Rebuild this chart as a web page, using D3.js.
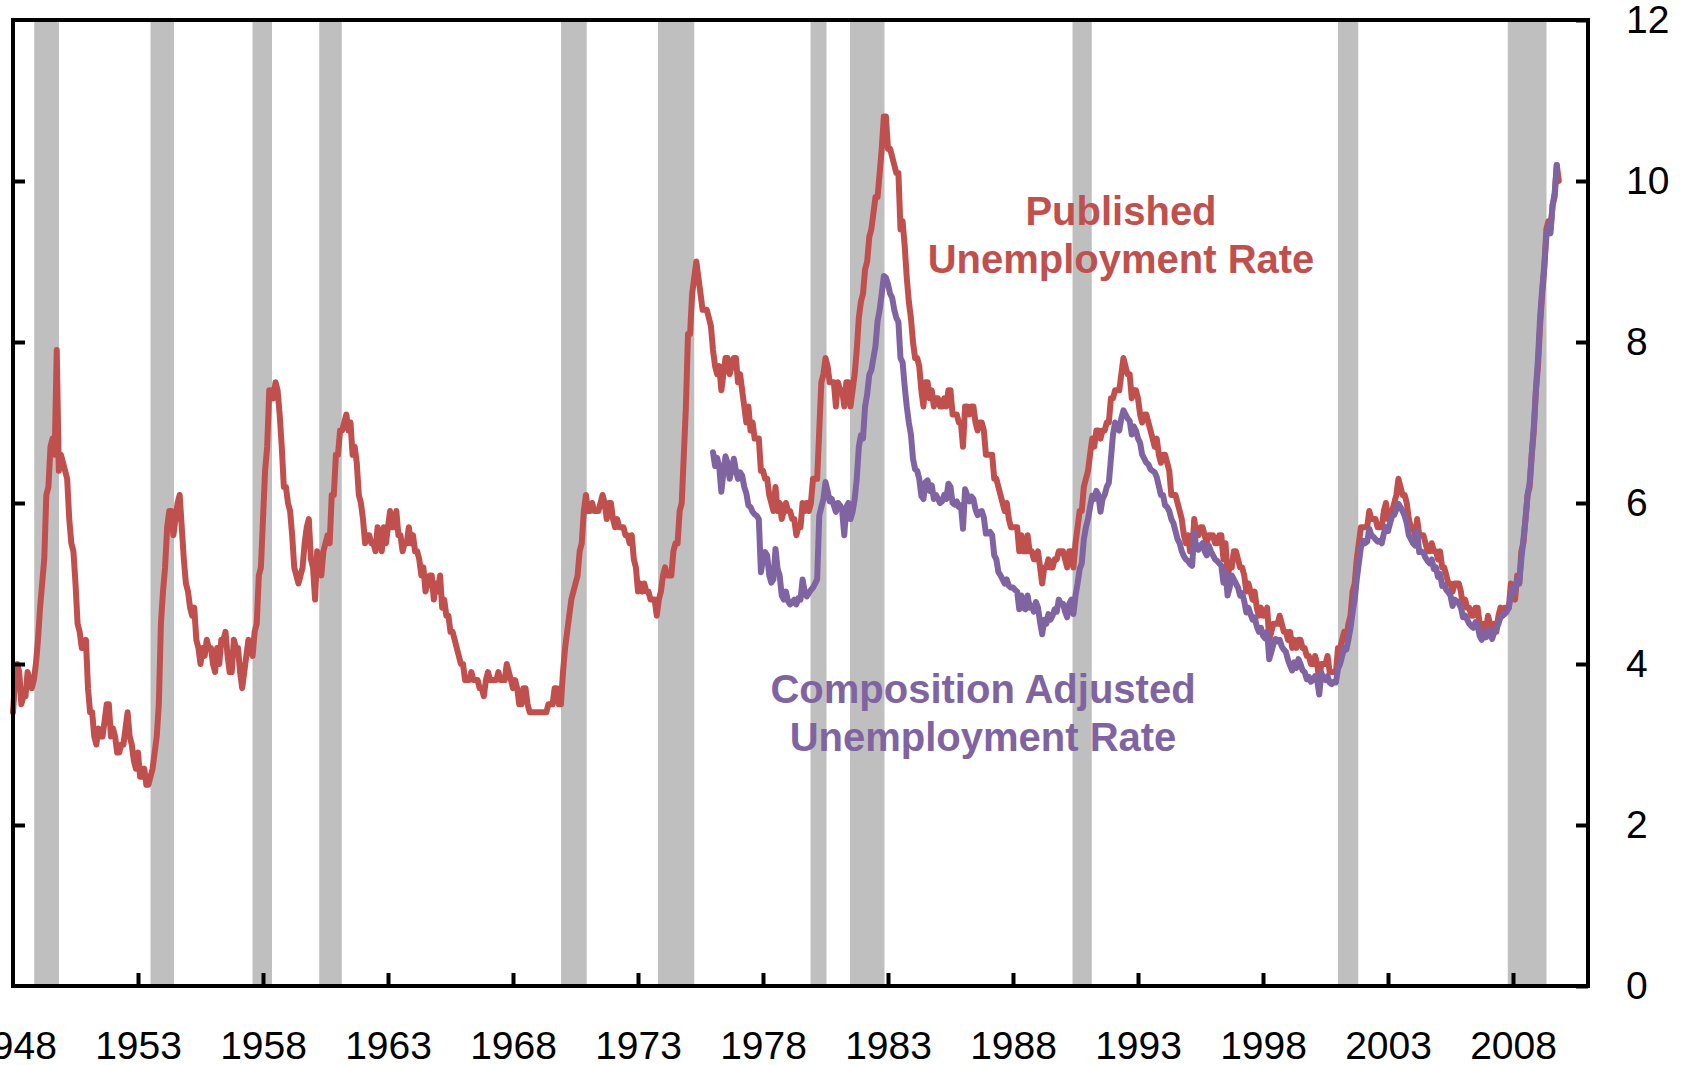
<!DOCTYPE html>
<html>
<head>
<meta charset="utf-8">
<script src="https://cdn.jsdelivr.net/npm/d3@7"></script>
<style>
  body { margin: 0; background: #fff; }
  svg { display: block; }
</style>
</head>
<body>
<div id="chart"></div>
<script>
// monthly published unemployment rate, Jan 1948 - Nov 2009
var publishedStart = 1948;
var published = [
  3.4,3.8,4.0,3.9,3.5,3.6,3.6,3.9,3.8,3.7,3.8,4.0, // 1948
  4.3,4.7,5.0,5.3,6.1,6.2,6.7,6.8,6.6,7.9,6.4,6.6, // 1949
  6.5,6.4,6.3,5.8,5.5,5.4,5.0,4.5,4.4,4.2,4.2,4.3,
  3.7,3.4,3.4,3.1,3.0,3.2,3.1,3.1,3.3,3.5,3.5,3.1,
  3.2,3.1,2.9,2.9,3.0,3.0,3.2,3.4,3.1,3.0,2.8,2.7,
  2.9,2.6,2.6,2.7,2.5,2.5,2.6,2.7,2.9,3.1,3.5,4.5, // 1953
  4.9,5.2,5.7,5.9,5.9,5.6,5.8,6.0,6.1,5.7,5.3,5.0,
  4.9,4.7,4.6,4.7,4.3,4.2,4.0,4.2,4.1,4.3,4.2,4.2,
  4.0,3.9,4.2,4.0,4.3,4.3,4.4,4.1,3.9,3.9,4.3,4.2,
  4.2,3.9,3.7,3.9,4.1,4.3,4.2,4.1,4.4,4.5,5.1,5.2,
  5.8,6.4,6.7,7.4,7.4,7.3,7.5,7.4,7.1,6.7,6.2,6.2, // 1958
  6.0,5.9,5.6,5.2,5.1,5.0,5.1,5.2,5.5,5.7,5.8,5.3,
  5.2,4.8,5.4,5.2,5.1,5.4,5.5,5.6,5.5,6.1,6.1,6.6,
  6.6,6.9,6.9,7.0,7.1,6.9,7.0,6.6,6.7,6.5,6.1,6.0,
  5.8,5.5,5.6,5.6,5.5,5.5,5.4,5.7,5.6,5.4,5.7,5.5,
  5.7,5.9,5.7,5.7,5.9,5.6,5.6,5.4,5.5,5.5,5.7,5.5, // 1963
  5.6,5.4,5.4,5.3,5.1,5.2,4.9,5.0,5.1,5.1,4.8,5.0,
  4.9,5.1,4.7,4.8,4.6,4.6,4.4,4.4,4.3,4.2,4.1,4.0,
  4.0,3.8,3.8,3.8,3.9,3.8,3.8,3.8,3.7,3.7,3.6,3.8,
  3.9,3.8,3.8,3.8,3.8,3.9,3.8,3.8,3.8,4.0,3.9,3.8,
  3.7,3.8,3.7,3.5,3.5,3.7,3.7,3.5,3.4,3.4,3.4,3.4, // 1968
  3.4,3.4,3.4,3.4,3.4,3.5,3.5,3.5,3.7,3.7,3.5,3.5,
  3.9,4.2,4.4,4.6,4.8,4.9,5.0,5.1,5.4,5.5,5.9,6.1,
  5.9,5.9,6.0,5.9,5.9,5.9,6.0,6.1,6.0,5.8,6.0,6.0,
  5.8,5.7,5.8,5.7,5.7,5.7,5.6,5.6,5.5,5.6,5.3,5.2,
  4.9,5.0,4.9,5.0,4.9,4.9,4.8,4.8,4.8,4.6,4.8,4.9, // 1973
  5.1,5.2,5.1,5.1,5.1,5.4,5.5,5.5,5.9,6.0,6.6,7.2,
  8.1,8.1,8.6,8.8,9.0,8.8,8.6,8.4,8.4,8.4,8.3,8.2,
  7.9,7.7,7.6,7.7,7.4,7.6,7.8,7.8,7.6,7.7,7.8,7.8,
  7.5,7.6,7.4,7.2,7.0,7.2,6.9,7.0,6.8,6.8,6.8,6.4,
  6.4,6.3,6.3,6.1,6.0,5.9,6.2,5.9,6.0,5.8,5.9,6.0, // 1978
  5.9,5.9,5.8,5.8,5.6,5.7,5.7,6.0,5.9,6.0,5.9,6.0,
  6.3,6.3,6.3,6.9,7.5,7.6,7.8,7.7,7.5,7.5,7.5,7.2,
  7.5,7.4,7.4,7.2,7.5,7.5,7.2,7.4,7.6,7.9,8.3,8.5,
  8.6,8.9,9.0,9.3,9.4,9.6,9.8,9.8,10.1,10.4,10.8,10.8,
  10.4,10.4,10.3,10.2,10.1,10.1,9.4,9.5,9.2,8.8,8.5,8.3, // 1983
  8.0,7.8,7.8,7.7,7.4,7.2,7.5,7.5,7.3,7.4,7.2,7.3,
  7.3,7.2,7.2,7.3,7.2,7.4,7.4,7.1,7.1,7.1,7.0,7.0,
  6.7,7.2,7.2,7.1,7.2,7.2,7.0,6.9,7.0,7.0,6.9,6.6,
  6.6,6.6,6.6,6.3,6.3,6.2,6.1,6.0,5.9,6.0,5.8,5.7,
  5.7,5.7,5.7,5.4,5.6,5.4,5.4,5.6,5.4,5.4,5.3,5.3, // 1988
  5.4,5.2,5.0,5.2,5.2,5.3,5.2,5.2,5.3,5.3,5.4,5.4,
  5.4,5.3,5.2,5.4,5.4,5.2,5.5,5.7,5.9,5.9,6.2,6.3,
  6.4,6.6,6.8,6.7,6.9,6.9,6.8,6.9,6.9,7.0,7.0,7.3,
  7.3,7.4,7.4,7.4,7.6,7.8,7.7,7.6,7.6,7.3,7.4,7.4,
  7.3,7.1,7.0,7.1,7.1,7.0,6.9,6.8,6.7,6.8,6.6,6.5, // 1993
  6.6,6.6,6.5,6.4,6.1,6.1,6.1,6.0,5.9,5.8,5.6,5.5,
  5.6,5.4,5.4,5.8,5.6,5.6,5.7,5.7,5.6,5.5,5.6,5.6,
  5.6,5.5,5.5,5.6,5.6,5.3,5.5,5.1,5.2,5.2,5.4,5.4,
  5.3,5.2,5.2,5.1,4.9,5.0,4.9,4.8,4.9,4.7,4.6,4.7,
  4.6,4.6,4.7,4.3,4.4,4.5,4.5,4.5,4.6,4.5,4.4,4.4, // 1998
  4.3,4.4,4.2,4.3,4.2,4.3,4.3,4.2,4.2,4.1,4.1,4.0,
  4.0,4.1,4.0,3.8,4.0,4.0,4.0,4.1,3.9,3.9,3.9,3.9,
  4.2,4.2,4.3,4.4,4.3,4.5,4.6,4.9,5.0,5.3,5.5,5.7,
  5.7,5.7,5.7,5.9,5.8,5.8,5.8,5.7,5.7,5.7,5.9,6.0,
  5.8,5.9,5.9,6.0,6.1,6.3,6.2,6.1,6.1,6.0,5.8,5.7, // 2003
  5.7,5.6,5.8,5.6,5.6,5.6,5.5,5.4,5.4,5.5,5.4,5.4,
  5.3,5.4,5.2,5.2,5.1,5.0,5.0,4.9,5.0,5.0,5.0,4.9,
  4.7,4.8,4.7,4.7,4.6,4.6,4.7,4.7,4.5,4.4,4.5,4.4,
  4.6,4.5,4.4,4.5,4.4,4.6,4.7,4.6,4.7,4.7,4.7,5.0,
  4.9,4.8,5.1,5.0,5.4,5.5,5.8,6.1,6.2,6.6,6.9,7.4, // 2008
  7.7,8.2,8.6,8.9,9.4,9.5,9.4,9.7,9.8,10.2,10.0
];

// monthly composition adjusted rate, Jan 1976 - Oct 2009
var adjustedStart = 1976;
var adjusted = [
  6.63,6.46,6.56,6.45,6.14,6.38,6.58,6.50,6.30,6.42,6.55,6.40, // 1976
  6.30,6.38,6.34,6.20,6.12,5.97,5.95,5.89,5.86,5.84,5.80,5.14,
  5.30,5.39,5.35,5.10,5.01,5.05,5.43,5.18,5.10,4.85,4.80,4.90,
  4.78,4.74,4.76,4.80,4.74,4.82,4.80,5.05,4.90,4.84,4.88,4.92,
  4.95,5.00,5.05,5.84,5.95,6.05,6.26,6.15,6.02,6.05,5.97,5.89, // 1980
  6.00,5.97,5.90,5.60,5.95,6.00,5.80,5.89,6.05,6.30,6.70,6.84,
  6.80,7.20,7.35,7.59,7.65,7.80,7.95,8.26,8.40,8.60,8.82,8.80,
  8.72,8.60,8.55,8.40,8.30,8.25,7.80,7.75,7.45,7.20,7.00,6.85,
  6.55,6.42,6.40,6.30,6.09,6.05,6.26,6.28,6.15,6.22,6.05,6.10,
  6.05,6.00,6.02,6.10,6.05,6.24,6.20,6.00,5.98,6.02,5.95,5.97, // 1985
  5.68,6.17,6.10,6.02,6.08,6.05,5.92,5.85,5.89,5.90,5.82,5.62,
  5.62,5.64,5.60,5.35,5.30,5.14,5.10,5.05,5.00,5.05,4.97,4.95,
  4.95,4.92,4.90,4.68,4.85,4.70,4.68,4.85,4.70,4.72,4.65,4.77,
  4.70,4.52,4.37,4.55,4.50,4.62,4.55,4.60,4.68,4.65,4.80,4.75,
  4.75,4.65,4.58,4.75,4.80,4.62,4.85,5.00,5.18,5.25,5.55,5.70, // 1990
  5.80,5.95,6.09,6.05,6.15,6.10,5.89,6.05,6.10,6.20,6.25,6.55,
  6.85,7.00,6.95,6.90,7.05,7.15,7.10,7.05,7.02,6.85,6.95,6.90,
  6.80,6.75,6.60,6.55,6.50,6.48,6.42,6.40,6.38,6.32,6.21,6.10,
  6.10,5.97,5.95,5.90,5.80,5.75,5.65,5.55,5.50,5.40,5.34,5.30,
  5.28,5.24,5.22,5.63,5.45,5.42,5.47,5.50,5.40,5.35,5.47,5.40, // 1995
  5.35,5.30,5.28,5.25,5.22,5.01,5.15,4.85,4.95,5.10,5.05,5.00,
  4.95,4.85,4.88,4.78,4.64,4.70,4.62,4.55,4.58,4.47,4.40,4.45,
  4.35,4.32,4.40,4.06,4.15,4.25,4.31,4.28,4.30,4.22,4.18,4.15,
  4.05,3.98,3.92,4.02,3.95,4.06,4.00,3.92,3.90,3.81,3.84,3.78,
  3.80,3.85,3.80,3.62,3.89,3.82,3.80,3.85,3.77,3.75,3.78,3.77, // 2000
  3.94,4.00,4.10,4.20,4.18,4.30,4.45,4.64,4.80,5.05,5.25,5.45,
  5.53,5.50,5.52,5.68,5.60,5.58,5.55,5.52,5.53,5.50,5.62,5.70,
  5.65,5.75,5.84,5.85,5.92,5.99,5.95,5.90,5.84,5.75,5.60,5.55,
  5.50,5.47,5.65,5.39,5.40,5.38,5.32,5.28,5.25,5.30,5.18,5.20,
  5.08,5.12,4.97,4.98,4.92,4.89,4.85,4.72,4.80,4.78,4.75,4.70, // 2005
  4.58,4.60,4.55,4.50,4.47,4.45,4.52,4.48,4.35,4.30,4.38,4.33,
  4.43,4.38,4.31,4.40,4.43,4.50,4.58,4.60,4.62,4.65,4.70,4.85,
  4.95,4.90,5.05,5.00,5.30,5.55,5.80,6.10,6.25,6.60,6.95,7.40,
  7.80,8.30,8.65,8.95,9.30,9.45,9.35,9.70,9.85,10.20
];

// recession shading, start / end in decimal years
var recessionStarts = [1948.85, 1953.50, 1957.58, 1960.25, 1969.92, 1973.80, 1979.90, 1981.48, 1990.38, 2001.00, 2007.79];
var recessionEnds   = [1949.84, 1954.44, 1958.36, 1961.15, 1970.95, 1975.25, 1980.54, 1982.86, 1991.15, 2001.81, 2009.34];

var yearTicks = [1948,1953,1958,1963,1968,1973,1978,1983,1988,1993,1998,2003,2008];
var rateTicks = [0,2,4,6,8,10,12];

var width = 1685, height = 1065;
// plot box (names avoid window.top etc.)
var plotL = 13, plotR = 1588, plotT = 20, plotB = 986;
var red = "#C0504D", purple = "#8064A2", band = "#BFBFBF";
var font = "'Liberation Sans', Arial, sans-serif";

var svg = d3.select("#chart").append("svg")
    .attr("width", width)
    .attr("height", height);

var x = d3.scaleLinear().domain([1948, 2011]).range([plotL, plotR]);
var y = d3.scaleLinear().domain([0, 12]).range([plotB, plotT]);

// recession bands
svg.append("g").selectAll("rect")
    .data(recessionStarts.map(function(s, i) { return [s, recessionEnds[i]]; }))
    .enter().append("rect")
    .attr("x", function(d) { return x(d[0]); })
    .attr("width", function(d) { return x(d[1]) - x(d[0]); })
    .attr("y", plotT)
    .attr("height", plotB - plotT)
    .attr("fill", band);

var pubData = published.map(function(v, i) { return {t: publishedStart + i / 12, v: v}; });
var adjData = adjusted.map(function(v, i) { return {t: adjustedStart + i / 12, v: v}; });

var line = d3.line()
    .x(function(d) { return x(d.t); })
    .y(function(d) { return y(d.v); });

svg.append("path").datum(pubData)
    .attr("d", line)
    .attr("fill", "none")
    .attr("stroke", red)
    .attr("stroke-width", 6)
    .attr("stroke-linejoin", "round")
    .attr("stroke-linecap", "round");

svg.append("path").datum(adjData)
    .attr("d", line)
    .attr("fill", "none")
    .attr("stroke", purple)
    .attr("stroke-width", 6)
    .attr("stroke-linejoin", "round")
    .attr("stroke-linecap", "round");

// frame
svg.append("rect")
    .attr("x", plotL).attr("y", plotT)
    .attr("width", plotR - plotL).attr("height", plotB - plotT)
    .attr("fill", "none")
    .attr("stroke", "#000")
    .attr("stroke-width", 4);

// axes
var xAxis = svg.append("g")
    .attr("transform", "translate(0," + plotB + ")")
    .call(d3.axisBottom(x).tickValues(yearTicks).tickSize(-13).tickPadding(45).tickFormat(d3.format("d")));

var leftAxis = svg.append("g")
    .attr("transform", "translate(" + plotL + ",0)")
    .call(d3.axisLeft(y).tickValues([2,4,6,8,10]).tickSize(-12).tickFormat(""));

var rightAxis = svg.append("g")
    .attr("transform", "translate(" + plotR + ",0)")
    .call(d3.axisRight(y).tickValues(rateTicks).tickSize(-12).tickPadding(38).tickFormat(d3.format("d")));

[xAxis, leftAxis, rightAxis].forEach(function(g) {
    g.select(".domain").remove();
    g.selectAll(".tick line").attr("stroke", "#000").attr("stroke-width", 4);
    g.selectAll(".tick text")
        .attr("fill", "#000")
        .style("font-family", font)
        .style("font-size", "39px");
});
xAxis.selectAll(".tick").filter(function(d) { return d === 1948; }).select("line").remove();
rightAxis.selectAll(".tick text").attr("text-anchor", "start");

// series labels
var labels = [
    {lines: ["Published", "Unemployment Rate"], cx: 1121, y0: 225, color: red},
    {lines: ["Composition Adjusted", "Unemployment Rate"], cx: 983, y0: 703, color: purple}
];
labels.forEach(function(l) {
    var t = svg.append("text")
        .attr("text-anchor", "middle")
        .attr("fill", l.color)
        .style("font-family", font)
        .style("font-weight", "bold")
        .style("font-size", "40px");
    l.lines.forEach(function(s, i) {
        t.append("tspan").attr("x", l.cx).attr("y", l.y0 + i * 48).text(s);
    });
});
</script>
</body>
</html>
